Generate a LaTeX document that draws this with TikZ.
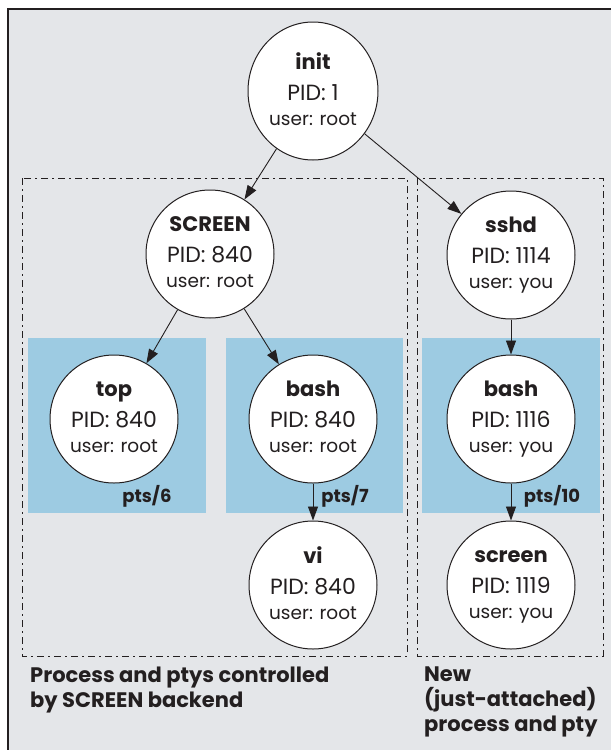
\documentclass[tikz,border=0pt]{standalone}
\usepackage{fontspec}
\setmainfont{Poppins}
\usetikzlibrary{arrows.meta,shapes.geometric}
\definecolor{bggray}{HTML}{E4E6E9}
\definecolor{ptyblue}{HTML}{9DCBE2}
\definecolor{ink}{HTML}{231F20}
\tikzset{
  proc/.style={circle, draw=ink, line width=1pt, fill=white, minimum size=128pt, inner sep=0pt, align=center, text=ink, font=\fontsize{20}{28}\selectfont},
  conn/.style={draw=ink, line width=0.9pt, -{Triangle[length=14pt,width=10pt]}},
  grp/.style={draw=ink, line width=1pt, dash pattern=on 7pt off 4pt on 2pt off 4pt},
  pty/.style={fill=ptyblue},
  ptylabel/.style={font=\fontsize{18}{20}\selectfont\bfseries, text=ink, inner sep=0pt},
  caption/.style={font=\fontsize{21}{25}\selectfont\bfseries, text=ink, align=left, anchor=north west, inner sep=0pt}
}
\newcommand{\proctext}[3]{{\fontsize{21}{28}\selectfont\bfseries\vphantom{Ab}#1}\\[3pt]{\fontsize{22}{28}\selectfont PID: #2}\\[-3pt]{\fontsize{18.5}{28}\selectfont user: #3\vphantom{y}}}
\begin{document}
\begin{tikzpicture}[x=1pt,y=-1pt]
\useasboundingbox (0,0) rectangle (611,750);
\fill[white] (0,0) rectangle (611,750);
\fill[bggray] (8,9) rectangle (611,750);
\draw[ink, line width=1.5pt] (8,750) -- (8,9) -- (611,9);
% pty areas
\fill[pty] (28,338) rectangle (206,513);
\fill[pty] (226,338) rectangle (403,513);
\fill[pty] (422,338) rectangle (600,513);
% groups
\draw[grp] (22,178) rectangle (407,656);
\draw[grp] (417,178) rectangle (603,656);
% processes
\node[proc, ellipse, minimum width=130pt, minimum height=138pt] (init) at (313,91) {\proctext{init}{1}{root}};
\node[proc] (screenb) at (210,254) {\proctext{SCREEN}{840}{root}};
\node[proc] (top) at (114,419) {\proctext{top}{840}{root}};
\node[proc] (bash1) at (313,419) {\proctext{bash}{840}{root}};
\node[proc] (vi) at (313,585) {\proctext{vi}{840}{root}};
\node[proc] (sshd) at (511,255) {\proctext{sshd}{1114}{you}};
\node[proc] (bash2) at (511,419) {\proctext{bash}{1116}{you}};
\node[proc] (screen) at (511,585) {\proctext{screen}{1119}{you}};
% connectors
\draw[conn] (init) -- (screenb);
\draw[conn] (init) -- (sshd);
\draw[conn] (screenb) -- (top);
\draw[conn] (screenb) -- (bash1);
\draw[conn] (bash1) -- (vi);
\draw[conn] (sshd) -- (bash2);
\draw[conn] (bash2) -- (screen);
% pty labels
\node[ptylabel] (p6) at (147,496) {pts/6};
\node[ptylabel] (p7) at (345,496) {pts/7};
\node[ptylabel] (p10) at (552,496) {pts/10};
% captions
\node[caption] (cap1) at (30,667) {Process and ptys controlled\\by SCREEN backend};
\node[caption] (cap2) at (424,667) {New\\(just-attached)\\process and pty};
\end{tikzpicture}
\end{document}
